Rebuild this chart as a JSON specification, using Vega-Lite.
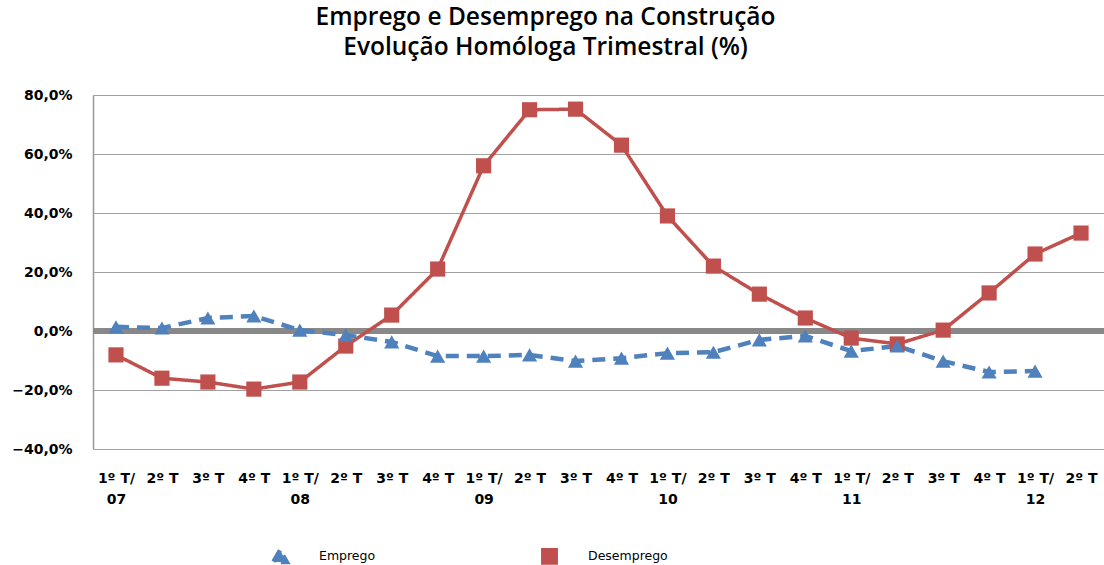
{
  "$schema": "https://vega.github.io/schema/vega-lite/v6.json",
  "autosize": "none",
  "width": 1011,
  "height": 354,
  "padding": {"left": 93, "top": 95, "right": 0, "bottom": 116},
  "background": "white",
  "title": {
    "text": ["Emprego e Desemprego na Construção", "Evolução Homóloga Trimestral (%)"],
    "font": "Open Sans",
    "fontSize": 24.5,
    "fontWeight": 600,
    "color": "#000000",
    "lineHeight": 30,
    "anchor": "middle",
    "dx": -53,
    "offset": 28
  },
  "config": {
    "view": {"stroke": null},
    "font": "DejaVu Sans"
  },
  "data": {
    "values": [
      {"trimestre": "1º T/|07", "serie": "Desemprego", "valor": -8.1},
      {"trimestre": "2º T|07", "serie": "Desemprego", "valor": -16.0},
      {"trimestre": "3º T|07", "serie": "Desemprego", "valor": -17.3},
      {"trimestre": "4º T|07", "serie": "Desemprego", "valor": -19.7},
      {"trimestre": "1º T/|08", "serie": "Desemprego", "valor": -17.3},
      {"trimestre": "2º T|08", "serie": "Desemprego", "valor": -5.1},
      {"trimestre": "3º T|08", "serie": "Desemprego", "valor": 5.4},
      {"trimestre": "4º T|08", "serie": "Desemprego", "valor": 21.0},
      {"trimestre": "1º T/|09", "serie": "Desemprego", "valor": 56.0},
      {"trimestre": "2º T|09", "serie": "Desemprego", "valor": 75.0},
      {"trimestre": "3º T|09", "serie": "Desemprego", "valor": 75.2},
      {"trimestre": "4º T|09", "serie": "Desemprego", "valor": 63.0},
      {"trimestre": "1º T/|10", "serie": "Desemprego", "valor": 39.0},
      {"trimestre": "2º T|10", "serie": "Desemprego", "valor": 22.0},
      {"trimestre": "3º T|10", "serie": "Desemprego", "valor": 12.5},
      {"trimestre": "4º T|10", "serie": "Desemprego", "valor": 4.4},
      {"trimestre": "1º T/|11", "serie": "Desemprego", "valor": -2.4},
      {"trimestre": "2º T|11", "serie": "Desemprego", "valor": -4.4},
      {"trimestre": "3º T|11", "serie": "Desemprego", "valor": 0.3},
      {"trimestre": "4º T|11", "serie": "Desemprego", "valor": 12.9},
      {"trimestre": "1º T/|12", "serie": "Desemprego", "valor": 26.1},
      {"trimestre": "2º T|12", "serie": "Desemprego", "valor": 33.2},
      {"trimestre": "1º T/|07", "serie": "Emprego", "valor": 1.4},
      {"trimestre": "2º T|07", "serie": "Emprego", "valor": 1.0},
      {"trimestre": "3º T|07", "serie": "Emprego", "valor": 4.4},
      {"trimestre": "4º T|07", "serie": "Emprego", "valor": 5.1},
      {"trimestre": "1º T/|08", "serie": "Emprego", "valor": 0.3},
      {"trimestre": "2º T|08", "serie": "Emprego", "valor": -1.4},
      {"trimestre": "3º T|08", "serie": "Emprego", "valor": -3.7},
      {"trimestre": "4º T|08", "serie": "Emprego", "valor": -8.5},
      {"trimestre": "1º T/|09", "serie": "Emprego", "valor": -8.5},
      {"trimestre": "2º T|09", "serie": "Emprego", "valor": -8.1},
      {"trimestre": "3º T|09", "serie": "Emprego", "valor": -10.2},
      {"trimestre": "4º T|09", "serie": "Emprego", "valor": -9.2},
      {"trimestre": "1º T/|10", "serie": "Emprego", "valor": -7.5},
      {"trimestre": "2º T|10", "serie": "Emprego", "valor": -7.2},
      {"trimestre": "3º T|10", "serie": "Emprego", "valor": -3.0},
      {"trimestre": "4º T|10", "serie": "Emprego", "valor": -1.7},
      {"trimestre": "1º T/|11", "serie": "Emprego", "valor": -6.8},
      {"trimestre": "2º T|11", "serie": "Emprego", "valor": -5.1},
      {"trimestre": "3º T|11", "serie": "Emprego", "valor": -10.2},
      {"trimestre": "4º T|11", "serie": "Emprego", "valor": -13.9},
      {"trimestre": "1º T/|12", "serie": "Emprego", "valor": -13.6}
    ]
  },
  "layer": [
    {
      "mark": {"type": "rule", "color": "#888888", "strokeWidth": 5},
      "encoding": {"y": {"datum": 0, "type": "quantitative"}}
    },
    {
      "encoding": {
        "x": {
          "field": "trimestre",
          "type": "ordinal",
          "sort": null,
          "title": null,
          "axis": {
            "labelExpr": "length(datum.value) > 7 ? split(datum.value, '|') : split(datum.value, '|')[0]",
            "labelAngle": 0,
            "labelFont": "DejaVu Sans",
            "labelFontSize": 14,
            "labelFontWeight": "bold",
            "labelColor": "#000000",
            "labelPadding": 22,
            "labelLineHeight": 21,
            "labelBaseline": "top",
            "ticks": false,
            "domain": false,
            "grid": false
          }
        },
        "y": {
          "field": "valor",
          "type": "quantitative",
          "title": null,
          "scale": {"domain": [-40, 80], "nice": false},
          "axis": {
            "values": [-40, -20, 0, 20, 40, 60, 80],
            "labelExpr": "replace(format(datum.value, '.1f'), '.', ',') + '%'",
            "labelFont": "DejaVu Sans",
            "labelFontSize": 14,
            "labelFontWeight": "bold",
            "labelColor": "#000000",
            "labelPadding": 21,
            "ticks": false,
            "domain": true,
            "domainColor": "#999999",
            "domainWidth": 1.5,
            "grid": true,
            "gridColor": "#a0a0a0",
            "gridWidth": 1.2
          }
        },
        "color": {
          "field": "serie",
          "type": "nominal",
          "scale": {"domain": ["Emprego", "Desemprego"], "range": ["#4F81BD", "#C0504D"]},
          "legend": {
            "orient": "none",
            "legendX": 178,
            "legendY": 452,
            "direction": "horizontal",
            "title": null,
            "labelFont": "DejaVu Sans",
            "labelFontSize": 12.5,
            "labelColor": "#000000",
            "symbolSize": 180,
            "symbolStrokeWidth": 0,
            "columnPadding": 159,
            "labelOffset": 30
          }
        }
      },
      "layer": [
        {
          "mark": {"type": "line"},
          "encoding": {
            "strokeDash": {
              "field": "serie",
              "type": "nominal",
              "scale": {"domain": ["Emprego", "Desemprego"], "range": [[13, 8], [1, 0]]},
              "legend": null
            },
            "strokeWidth": {
              "field": "serie",
              "type": "nominal",
              "scale": {"domain": ["Emprego", "Desemprego"], "range": [4.5, 3.5]},
              "legend": null
            }
          }
        },
        {
          "mark": {"type": "point", "filled": true, "opacity": 1},
          "encoding": {
            "shape": {
              "field": "serie",
              "type": "nominal",
              "scale": {"domain": ["Emprego", "Desemprego"], "range": ["triangle-up", "square"]}
            },
            "size": {"value": 230}
          }
        }
      ]
    }
  ]
}
